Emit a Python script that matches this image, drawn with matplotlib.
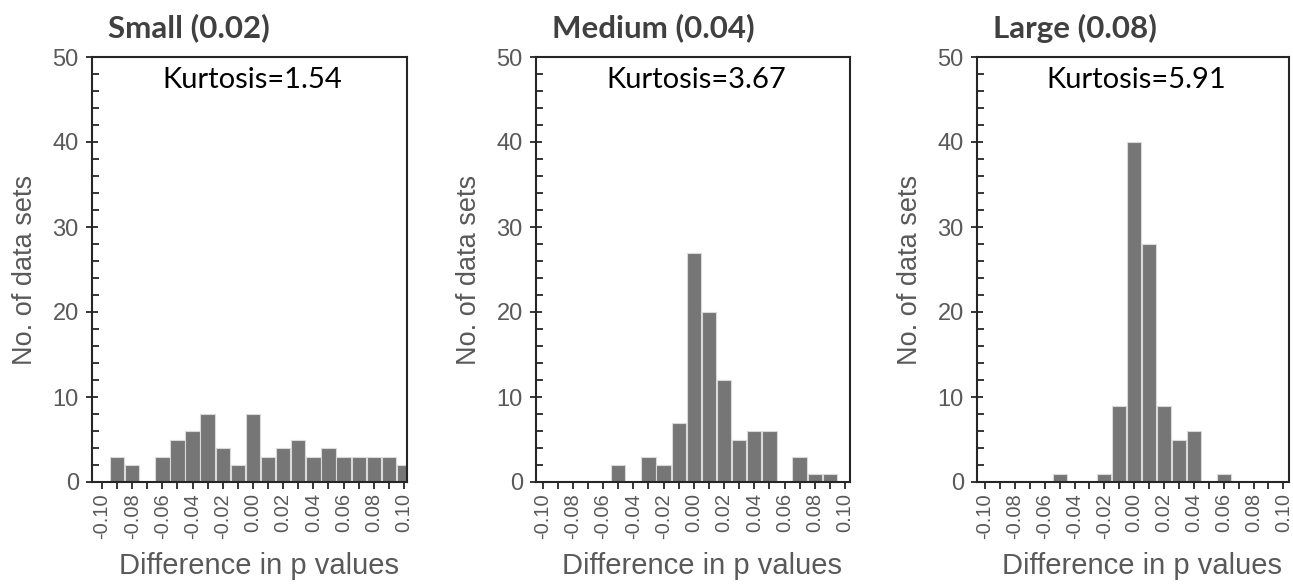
import numpy as np
import matplotlib
matplotlib.use("Agg")
import matplotlib.pyplot as plt
from matplotlib.ticker import MultipleLocator, FixedLocator

# bin centres (difference in p values) and counts per panel
bins = [-0.10, -0.09, -0.08, -0.07, -0.06, -0.05, -0.04, -0.03, -0.02, -0.01, 0.00,
        0.01, 0.02, 0.03, 0.04, 0.05, 0.06, 0.07, 0.08, 0.09, 0.10]
small_counts = [0, 3, 2, 0, 3, 5, 6, 8, 4, 2, 8, 3, 4, 5, 3, 4, 3, 3, 3, 3, 2]
medium_counts = [0, 0, 0, 0, 0, 2, 0, 3, 2, 7, 27, 20, 12, 5, 6, 6, 0, 3, 1, 1, 0]
large_counts = [0, 0, 0, 0, 0, 1, 0, 0, 1, 9, 40, 28, 9, 5, 6, 0, 1, 0, 0, 0, 0]

titles = ["Small (0.02)", "Medium (0.04)", "Large (0.08)"]
kurtosis = ["Kurtosis=1.54", "Kurtosis=3.67", "Kurtosis=5.91"]
xtick_labels = ["-0.10", "-0.08", "-0.06", "-0.04", "-0.02", "0.00",
                "0.02", "0.04", "0.06", "0.08", "0.10"]

W, H = 1293, 584
fig = plt.figure(figsize=(W / 100, H / 100), dpi=100)

# axes boxes in pixels: left, right, top, bottom
boxes = [(92, 407, 57, 482), (536, 850, 57, 482), (977, 1289, 57, 482)]
xlims = [(-0.1066, 0.1020), (-0.1044, 0.1033), (-0.1054, 0.1038)]

bar_col = "#767676"
txt_col = "#595959"
spine_col = "#262626"

for i, counts in enumerate([small_counts, medium_counts, large_counts]):
    l, r, t, b = boxes[i]
    ax = fig.add_axes([l / W, (H - b) / H, (r - l) / W, (b - t) / H])
    ax.bar(bins, counts, width=0.0095, color=bar_col, edgecolor="#d9d9d9", linewidth=0.8)
    ax.set_xlim(*xlims[i])
    ax.set_ylim(0, 50)

    for s in ax.spines.values():
        s.set_color(spine_col)
        s.set_linewidth(1.5)

    ax.yaxis.set_major_locator(MultipleLocator(10))
    ax.yaxis.set_minor_locator(MultipleLocator(2))
    ax.tick_params(axis="y", which="major", direction="inout", length=9, width=1.3,
                   color=spine_col, labelsize=17, labelcolor=txt_col, pad=5)
    ax.tick_params(axis="y", which="minor", direction="in", length=5, width=1.3,
                   color=spine_col)

    ax.xaxis.set_major_locator(FixedLocator(bins[::2]))
    ax.xaxis.set_minor_locator(FixedLocator(bins[1::2]))
    ax.set_xticklabels(xtick_labels, rotation=90)
    ax.tick_params(axis="x", which="both", direction="out", length=5, width=1.3,
                   color=spine_col, labelsize=14.5, labelcolor=txt_col, pad=3)

    ax.set_ylabel("No. of data sets", fontsize=19.5, color=txt_col, va="center")
    ax.yaxis.set_label_coords(-67 / (r - l), 0.5)
    ax.set_xlabel("Difference in p values", fontsize=21, color=txt_col, va="center")
    ax.xaxis.set_label_coords(0.53, -(566 - b) / (b - t))

    ax.text(16 / (r - l), 1 + (t - 28) / (b - t), titles[i], transform=ax.transAxes,
            fontsize=22.5, fontweight="bold", color="#404040", family="Lato",
            ha="left", va="center")
    ax.text(0.51, 1 - (80 - t) / (b - t), kurtosis[i], transform=ax.transAxes,
            fontsize=21, color="black", family="Lato", ha="center", va="center")

    for lab in ax.get_xticklabels() + ax.get_yticklabels():
        lab.set_family("Liberation Sans")
    ax.xaxis.label.set_family("Liberation Sans")
    ax.yaxis.label.set_family("Liberation Sans")

fig.savefig("out.png", dpi=100)
